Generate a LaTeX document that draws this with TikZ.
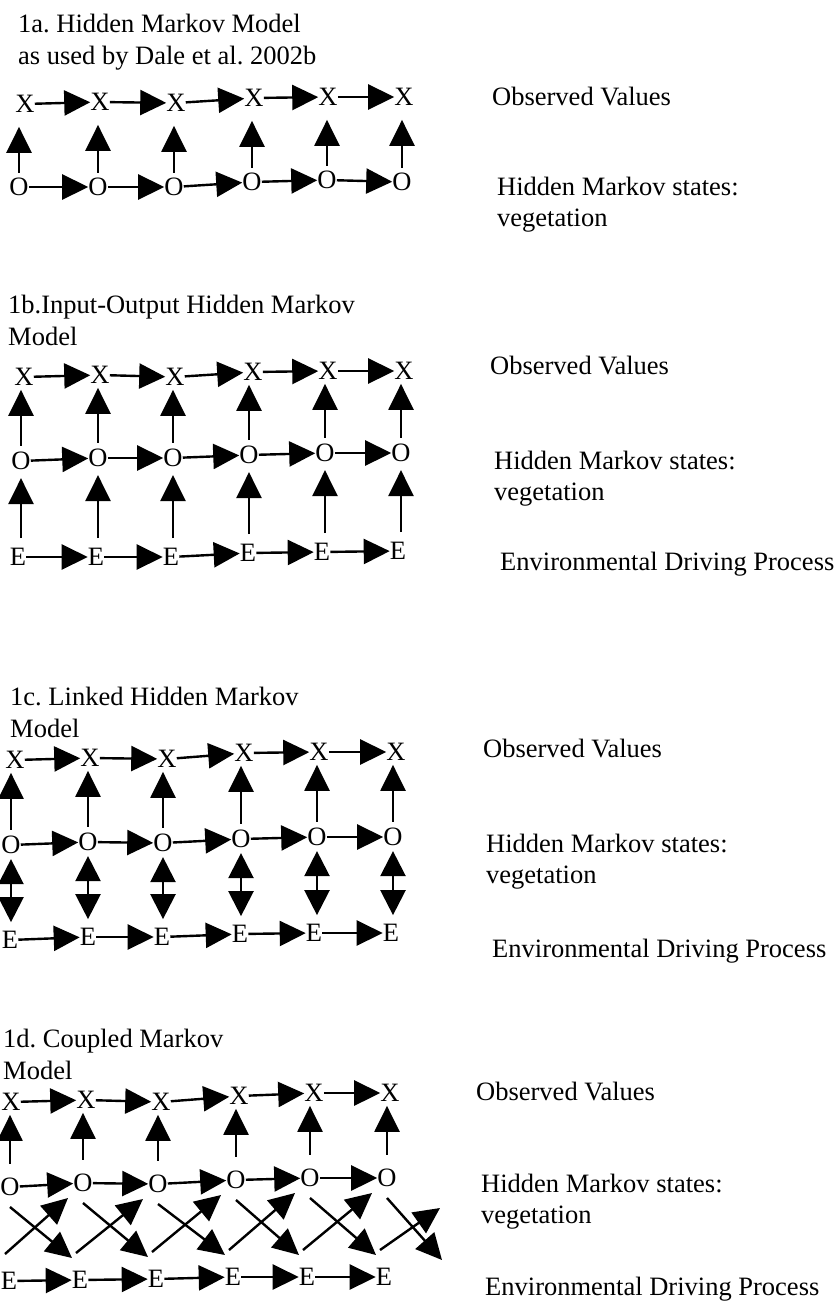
\documentclass[tikz,border=0pt]{standalone}
\usepackage{fontspec}
\setmainfont{Liberation Serif}
\usetikzlibrary{arrows.meta}
\frenchspacing

\begin{document}
\begin{tikzpicture}[
	x=1pt, y=-1pt,
	font=\fontsize{26.5}{32}\selectfont,
	state/.style={inner sep=0pt},
	heading/.style={anchor=north west, align=left, inner sep=0pt},
	rowlabel/.style={anchor=base west, inner sep=0pt},
	twolabel/.style={anchor=north west, align=left, inner sep=0pt,
		font=\fontsize{26.5}{31}\selectfont},
	link/.style={-{Triangle[length=26pt,width=25pt]}, line width=2.4pt},
	twoway/.style={{Triangle[length=25pt,width=25pt]}-{Triangle[length=25pt,width=25pt]},
		line width=2.4pt}
	]
	\useasboundingbox (0,0) rectangle (833,1301);
	
	% 1a: Hidden Markov Model
	\node[heading] (ta) at (18,14) {1a. Hidden Markov Model\\as used by Dale et al. 2002b};
	\foreach \i/\x/\y in {1/25/104, 2/100/102, 3/176/103, 4/254/98, 5/328/97, 6/404/97}
		\node[state] (aX\i) at (\x,\y) {X};
	\foreach \i/\x/\y in {1/19/187, 2/98/187, 3/174/187, 4/252/182, 5/327/180, 6/402/182}
		\node[state] (aO\i) at (\x,\y) {O};
	\node[rowlabel] (aobs) at (492,105) {Observed Values};
	\node[twolabel] (ahid) at (497,177) {Hidden Markov states:\\vegetation};
	
	\foreach \r in {X,O}
		\foreach \i [count=\j from 2] in {1,...,5}
			\draw[link] (a\r\i) -- (a\r\j);
	\foreach \i in {1,...,6}
		\draw[link, shorten <=5pt, shorten >=14pt] (aO\i.north) -- (aO\i.north |- aX\i.south);
	
	% 1b: Input-Output Hidden Markov Model
	\node[heading] (tb) at (8,295) {1b.Input-Output Hidden Markov\\Model};
	\foreach \i/\x/\y in {1/24/377, 2/100/375, 3/175/377, 4/253/372, 5/328/371, 6/404/371}
		\node[state] (bX\i) at (\x,\y) {X};
	\foreach \i/\x/\y in {1/21/461, 2/98/458, 3/173/458, 4/249/455, 5/325/453, 6/401/453}
		\node[state] (bO\i) at (\x,\y) {O};
	\foreach \i/\x/\y in {1/18/557, 2/96/557, 3/171/557, 4/248/553, 5/322/552, 6/398/551}
		\node[state] (bE\i) at (\x,\y) {E};
	\node[rowlabel] (bobs) at (490,374) {Observed Values};
	\node[twolabel] (bhid) at (494,451) {Hidden Markov states:\\vegetation};
	\node[rowlabel] (benv) at (500,570) {Environmental Driving Process};
	
	\foreach \r in {X,O,E}
		\foreach \i [count=\j from 2] in {1,...,5}
			\draw[link] (b\r\i) -- (b\r\j);
	\foreach \i in {1,...,6} {
		\draw[link, shorten <=6pt, shorten >=4pt] (bO\i.north) -- (bO\i.north |- bX\i.south);
		\draw[link, shorten <=10pt, shorten >=8pt] (bO\i.south |- bE\i.north) -- (bO\i.south);
	}
	
	% 1c: Linked Hidden Markov Model
	\node[heading] (tc) at (10,687) {1c. Linked Hidden Markov\\Model};
	\foreach \i/\x/\y in {1/15/760, 2/90/758, 3/167/759, 4/244/753, 5/319/752, 6/396/752}
		\node[state] (cX\i) at (\x,\y) {X};
	\foreach \i/\x/\y in {1/11/845, 2/88/842, 3/163/843, 4/241/839, 5/317/837, 6/393/837}
		\node[state] (cO\i) at (\x,\y) {O};
	\foreach \i/\x/\y in {1/10/940, 2/88/937, 3/162/937, 4/240/934, 5/314/933, 6/391/933}
		\node[state] (cE\i) at (\x,\y) {E};
	\node[rowlabel] (cobs) at (483,757) {Observed Values};
	\node[twolabel] (chid) at (486,834) {Hidden Markov states:\\vegetation};
	\node[rowlabel] (cenv) at (492,957) {Environmental Driving Process};
	
	\foreach \r in {X,O,E}
		\foreach \i [count=\j from 2] in {1,...,5}
			\draw[link] (c\r\i) -- (c\r\j);
	\foreach \i in {1,...,6} {
		\draw[link, shorten <=6pt, shorten >=4pt] (cO\i.north) -- (cO\i.north |- cX\i.south);
		\draw[twoway, shorten <=5pt, shorten >=9pt] (cO\i.south) -- (cO\i.south |- cE\i.north);
	}
	
	% 1d: Coupled Markov Model
	\node[heading] (td) at (3,1029) {1d. Coupled Markov\\Model};
	\foreach \i/\x/\y in {1/11/1102, 2/86/1100, 3/161/1102, 4/239/1096, 5/314/1093, 6/390/1093}
		\node[state] (dX\i) at (\x,\y) {X};
	\foreach \i/\x/\y in {1/10/1187, 2/83/1183, 3/158/1184, 4/236/1180, 5/310/1178, 6/387/1178}
		\node[state] (dO\i) at (\x,\y) {O};
	\foreach \i/\x/\y in {1/9/1281, 2/80/1280, 3/156/1279, 4/233/1277, 5/307/1277, 6/384/1277}
		\node[state] (dE\i) at (\x,\y) {E};
	\coordinate (dO7) at (455,1193);
	\coordinate (dE7) at (450,1282);
	\node[rowlabel] (dobs) at (476,1100) {Observed Values};
	\node[twolabel] (dhid) at (481,1174) {Hidden Markov states:\\vegetation};
	\node[rowlabel] (denv) at (485,1295) {Environmental Driving Process};
	
	\foreach \r in {X,O,E}
		\foreach \i [count=\j from 2] in {1,...,5}
			\draw[link] (d\r\i) -- (d\r\j);
	\foreach \i in {1,...,6}
		\draw[link, shorten <=14pt, shorten >=4pt] (dO\i.north) -- (dO\i.north |- dX\i.south);
	% crossed links between the two chains
	\foreach \i [count=\j from 2] in {1,...,6} {
		\draw[link] ([shift={(0,20)}]dO\i.center) -- ([shift={(-8,-22)}]dE\j.center);
		\draw[link] ([shift={(-4,-27)}]dE\i.center) -- ([shift={(-15,15)}]dO\j.center);
	}
	
\end{tikzpicture}
\end{document}
